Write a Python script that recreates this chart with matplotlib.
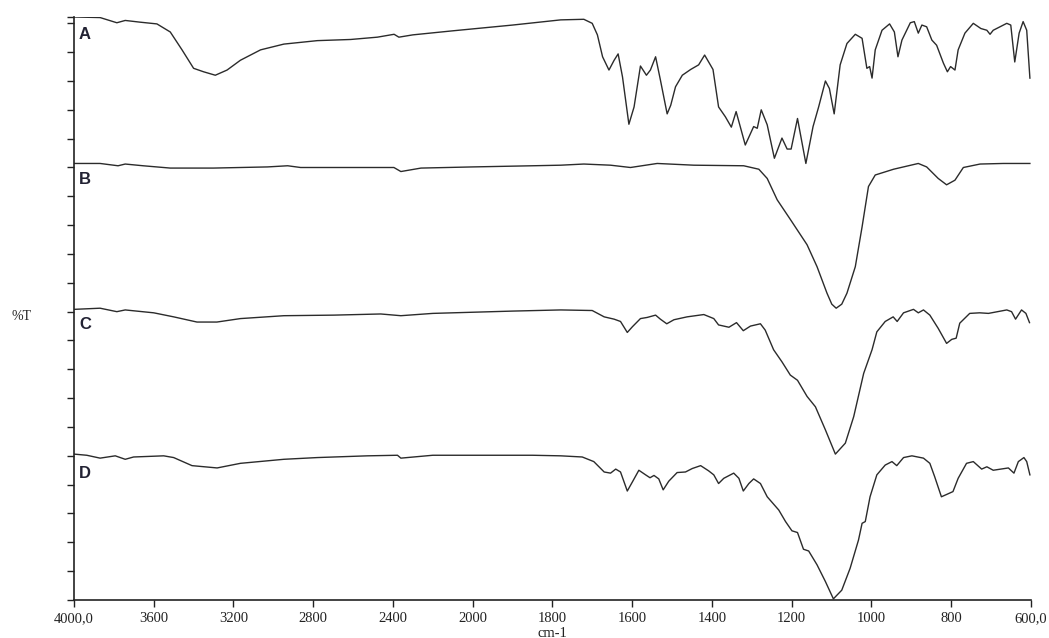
import numpy as np
import matplotlib
matplotlib.use("Agg")
import matplotlib.pyplot as plt
from matplotlib.ticker import NullLocator

# wavenumber (cm-1) and %T (offset traces, arbitrary scale)
A_wn = [4000, 3869, 3785, 3743, 3668, 3584, 3517, 3458, 3400, 3350, 3291, 3232, 3165, 3064, 2947,
        2779, 2612, 2478, 2394, 2370, 2300, 2100, 1900,
        1779, 1721, 1700, 1687, 1674, 1658, 1645, 1635, 1624, 1608, 1595, 1579, 1564, 1554, 1541,
        1529, 1512, 1503, 1491, 1474, 1453, 1433, 1418, 1397, 1383, 1366, 1351, 1339, 1316, 1295,
        1286, 1276, 1261, 1243, 1224, 1211, 1201, 1185, 1164, 1146, 1132, 1115, 1105, 1093, 1078,
        1061, 1040, 1023, 1011, 1004, 998, 990, 973, 954, 942, 933, 923, 902, 892, 882, 873, 861,
        848, 836, 819, 809, 801, 790, 782, 765, 744, 725, 710, 702, 694, 660, 650, 640, 629, 619,
        610, 602]
A_T = [101.1, 101.0, 100.1, 100.5, 100.2, 99.9, 98.5, 95.4, 92.2, 91.6, 91.0, 91.9, 93.6, 95.4, 96.4,
       97.0, 97.2, 97.6, 98.1, 97.6, 98.0, 98.7, 99.7,
       100.6, 100.7, 100.0, 98.0, 94.2, 91.9, 93.6, 94.7, 90.7, 82.5, 85.5, 92.6, 91.0, 91.9, 94.2,
       90.2, 84.3, 85.8, 89.0, 91.0, 92.0, 92.8, 94.5, 92.0, 85.5, 83.8, 82.0, 84.7, 78.9, 82.1,
       81.8, 85.0, 82.4, 76.6, 80.1, 78.2, 78.2, 83.5, 75.7, 82.1, 85.5, 90.0, 88.7, 84.3, 92.8,
       96.5, 98.1, 97.4, 92.2, 92.5, 90.5, 95.4, 98.8, 99.9, 98.5, 94.2, 97.1, 100.1, 100.3, 98.3, 99.7,
       99.4, 97.1, 96.2, 93.1, 91.6, 92.5, 91.9, 95.4, 98.3, 100.0, 99.1, 98.8, 98.1, 98.8, 100.0, 99.7,
       93.3, 98.3, 100.3, 98.8, 90.5]

B_wn = [4000, 3869, 3779, 3743, 3653, 3517, 3301, 3029, 2928, 2863, 2395, 2360, 2259, 2000, 1850,
        1779, 1721, 1654, 1604, 1537, 1445, 1320, 1282, 1261, 1236, 1203, 1161, 1136, 1111, 1099,
        1088, 1074, 1061, 1040, 1023, 1007, 990, 944, 882, 861, 832, 811, 790, 769, 727, 669, 602]
B_T = [75.7, 75.7, 75.3, 75.6, 75.3, 74.9, 74.9, 75.1, 75.3, 75.0, 75.0, 74.3, 74.9, 75.1, 75.3,
       75.4, 75.6, 75.4, 75.0, 75.7, 75.4, 75.3, 74.7, 73.1, 69.4, 66.0, 61.6, 57.8, 53.2, 51.3,
       50.6, 51.3, 53.2, 57.8, 64.7, 71.7, 73.7, 74.7, 75.7, 75.1, 73.1, 72.0, 72.8, 75.0, 75.6, 75.7, 75.7]

C_wn = [4000, 3869, 3785, 3743, 3600, 3500, 3383, 3283, 3165, 2947, 2696, 2461, 2360, 2200, 2000, 1900,
        1779, 1700, 1670, 1645, 1629, 1612, 1599, 1579, 1562, 1541, 1529, 1513, 1495, 1462, 1420,
        1395, 1383, 1357, 1338, 1321, 1303, 1278, 1266, 1245, 1224, 1203, 1185, 1161, 1140, 1115,
        1090, 1065, 1044, 1019, 998, 986, 965, 945, 935, 919, 894, 882, 869, 853, 832, 811, 798,
        787, 778, 753, 728, 706, 660, 648, 638, 623, 612, 603]
C_T = [50.4, 50.6, 50.0, 50.3, 49.8, 49.1, 48.2, 48.2, 48.8, 49.3, 49.4, 49.6, 49.3, 49.7, 49.9, 50.1,
       50.3, 50.2, 49.1, 48.7, 48.3, 46.4, 47.4, 48.8, 49.0, 49.4, 48.7, 47.9, 48.6, 49.1, 49.5,
       48.8, 47.7, 47.3, 48.1, 46.7, 47.5, 47.9, 46.8, 43.4, 41.3, 39.0, 38.1, 35.3, 33.5, 29.5,
       25.3, 27.2, 31.8, 39.3, 43.4, 46.5, 48.3, 49.1, 48.3, 49.8, 50.4, 49.8, 50.3, 49.4, 47.1, 44.5, 45.2,
       45.4, 48.0, 49.7, 49.8, 49.7, 50.3, 50.0, 48.7, 50.3, 49.7, 48.1]

D_wn = [4000, 3936, 3869, 3793, 3743, 3701, 3550, 3500, 3408, 3282, 3165, 2947, 2779, 2528, 2377, 2360,
        2200, 2000, 1850,
        1779, 1725, 1696, 1670, 1654, 1641, 1629, 1612, 1599, 1583, 1566, 1555, 1545, 1533, 1522,
        1508, 1487, 1466, 1449, 1428, 1408, 1395, 1383, 1370, 1345, 1332, 1321, 1307, 1295, 1278,
        1261, 1232, 1215, 1199, 1185, 1170, 1157, 1136, 1115, 1095, 1074, 1053, 1032, 1023, 1015,
        1003, 986, 965, 948, 936, 919, 898, 869, 853, 841, 824, 811, 795, 782, 761, 744, 723, 710,
        694, 656, 642, 631, 617, 610, 602]
D_T = [25.3, 25.1, 24.6, 25.0, 24.4, 24.8, 25.0, 24.7, 23.3, 22.9, 23.7, 24.4, 24.7, 25.0, 25.1, 24.6,
       25.1, 25.1, 25.1,
       25.0, 24.8, 24.0, 22.2, 22.0, 22.7, 22.2, 18.9, 20.5, 22.5, 21.7, 21.2, 21.6, 21.0, 19.1,
       20.6, 22.1, 22.2, 22.8, 23.3, 22.4, 21.7, 20.2, 21.1, 22.0, 21.1, 18.9, 20.2, 21.0, 20.2,
       17.9, 15.6, 13.6, 12.0, 11.7, 8.8, 8.5, 6.1, 3.2, 0.2, 1.7, 5.5, 10.4, 13.3, 13.6,
       17.9, 21.7, 23.4, 24.0, 23.3, 24.7, 25.0, 24.6, 23.7, 21.4, 17.9, 18.3, 18.8, 21.1, 23.7, 24.0, 22.7, 23.1,
       22.5, 22.9, 22.0, 24.0, 24.7, 24.0, 21.7]

labels = ["A", "B", "C", "D"]
label_y = [98.0, 73.0, 47.7, 22.0]

x_ticks = [4000, 3600, 3200, 2800, 2400, 2000, 1800, 1600, 1400, 1200, 1000, 800, 600]
x_ticklabels = ["4000,0", "3600", "3200", "2800", "2400", "2000", "1800", "1600",
                "1400", "1200", "1000", "800", "600,0"]


# scale halves above 2000 cm-1 (usual FTIR abscissa expansion)
def fwd(x):
    x = np.asarray(x, dtype=float)
    return np.where(x > 2000, 2000 + (x - 2000) / 2.0, x)


def inv(u):
    u = np.asarray(u, dtype=float)
    return np.where(u > 2000, 2000 + (u - 2000) * 2.0, u)


fig = plt.figure(figsize=(10.49, 6.38), dpi=100)
ax = fig.add_axes([74 / 1049, 38 / 638, 956.7 / 1049, 583.3 / 638])
ax.set_xscale("function", functions=(fwd, inv))

line_kw = dict(color="#2b2b2b", lw=1.0, solid_joinstyle="round")
for wn, T in [(A_wn, A_T), (B_wn, B_T), (C_wn, C_T), (D_wn, D_T)]:
    ax.plot(wn, T, **line_kw)

ax.set_xlim(4000, 600)
ax.set_ylim(0, 101.15)

ax.set_xticks(x_ticks)
ax.set_xticklabels(x_ticklabels, family="Liberation Serif", fontsize=10.5, color="#222222")
ax.xaxis.set_minor_locator(NullLocator())
ax.set_yticks(list(np.arange(0, 101, 5)) + [101.15])
ax.set_yticklabels([])
ax.yaxis.set_minor_locator(NullLocator())
ax.tick_params(direction="out", length=5, width=1.0, color="#222222", pad=4)

for s in ["top", "right"]:
    ax.spines[s].set_visible(False)
for s in ["left", "bottom"]:
    ax.spines[s].set_linewidth(1.2)
    ax.spines[s].set_color("#222222")

for lab, yy in zip(labels, label_y):
    ax.text(3975, yy, lab, ha="left", va="center", fontsize=12, fontweight="bold",
            family="Liberation Sans", color="#222233")

fig.text(21 / 1049, 1 - 317 / 638, "%T", ha="center", va="center",
         family="Liberation Serif", fontsize=10, color="#222222")
fig.text(552 / 1049, 1 - 627 / 638, "cm-1", ha="center", va="top",
         family="Liberation Serif", fontsize=10.5, color="#222222")

fig.savefig("out.png", dpi=100)
